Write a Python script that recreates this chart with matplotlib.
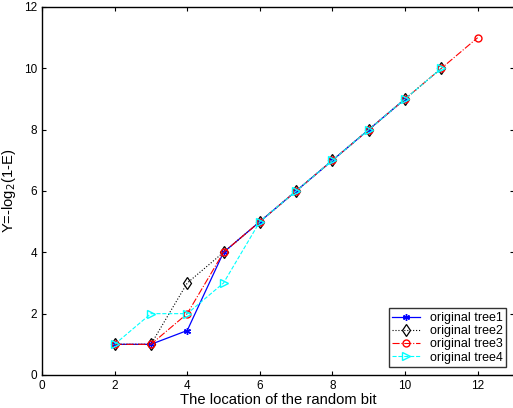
import matplotlib
matplotlib.use("Agg")
import matplotlib.pyplot as plt

plt.rcParams['font.family'] = ['Liberation Sans', 'DejaVu Sans']

# datos
x_tree1 = [2, 3, 4, 5, 6, 7, 8, 9, 10]
y_tree1 = [1, 1, 1.45, 4, 5, 6, 7, 8, 9]
x_tree2 = [2, 3, 4, 5, 6, 7, 8, 9, 10, 11]
y_tree2 = [1, 1, 3, 4, 5, 6, 7, 8, 9, 10]
x_tree3 = [2, 3, 4, 5, 6, 7, 8, 9, 10, 11, 12]
y_tree3 = [1, 1, 2, 4, 5, 6, 7, 8, 9, 10, 11]
x_tree4 = [2, 3, 4, 5, 6, 7, 8, 9, 10, 11]
y_tree4 = [1, 2, 2, 3, 5, 6, 7, 8, 9, 10]
etiquetas = ['original tree1', 'original tree2', 'original tree3', 'original tree4']

fig = plt.figure(figsize=(5.13, 4.08), dpi=100)
ax = fig.add_axes([0.0819, 0.0809, 0.92, 0.902])

ax.plot(x_tree1, y_tree1, color='blue', linestyle='-', marker=(6, 2, 0),
        markersize=5, linewidth=0.9, label=etiquetas[0])
ax.plot(x_tree2, y_tree2, color='black', linestyle=':', marker='d',
        markersize=6, markerfacecolor='none', markeredgewidth=0.9,
        linewidth=0.8, label=etiquetas[1])
ax.plot(x_tree3, y_tree3, color='red', linestyle='-.', marker='o',
        markersize=5, markerfacecolor='none', linewidth=0.8, label=etiquetas[2])
ax.plot(x_tree4, y_tree4, color='cyan', linestyle='--', marker='>',
        markersize=5.5, markerfacecolor='none', linewidth=0.8, label=etiquetas[3])

ax.set_xlim(0, 13)
ax.set_ylim(0, 12)
ax.set_xticks(range(0, 13, 2))
ax.set_yticks(range(0, 13, 2))
ax.tick_params(direction='in', top=True, right=True, labelsize=8.5, length=3)
for s in ax.spines.values():
    s.set_linewidth(1.0)

ax.set_xlabel('The location of the random bit', fontsize=10.6, labelpad=1)
ax.set_ylabel(r'Y=-log$_2$(1-E)', fontsize=10.6, labelpad=4)

leg = ax.legend(loc='lower right', fontsize=9, frameon=True, fancybox=False,
                edgecolor='black', borderpad=0.3, labelspacing=0.1,
                handlelength=2.2, borderaxespad=0.6)
leg.get_frame().set_linewidth(1.0)

fig.savefig('out.png', dpi=100)
